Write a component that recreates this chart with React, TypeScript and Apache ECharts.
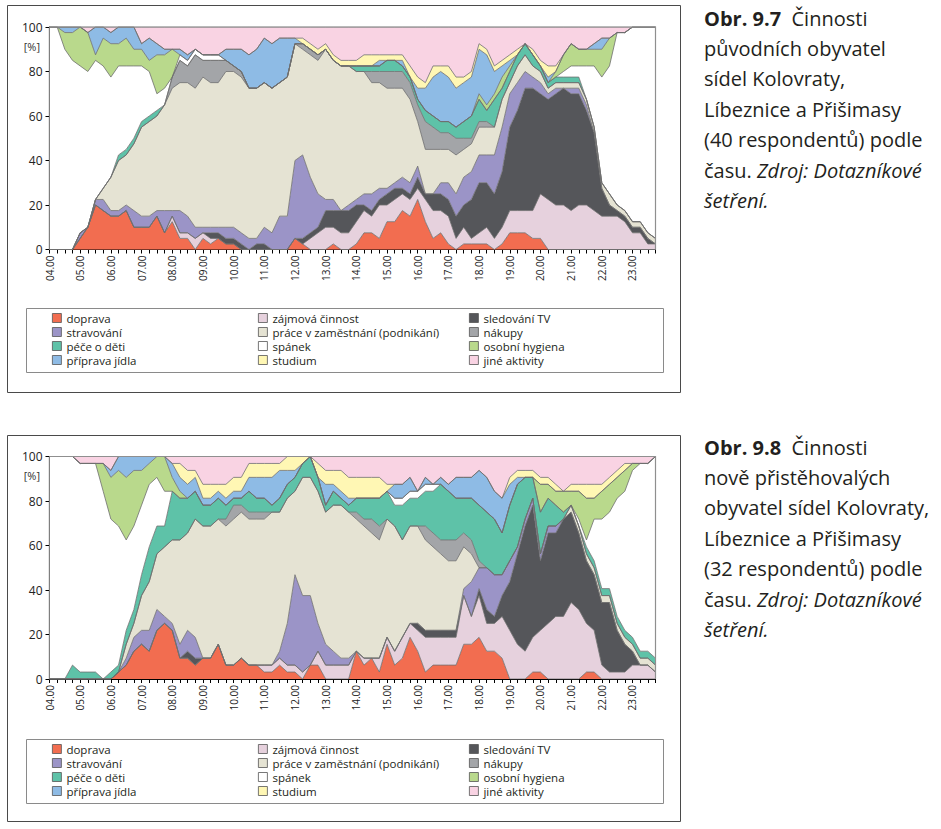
import React, { useEffect, useRef } from "react";
import * as echarts from "echarts";

// 15-minute time categories 04.00 ... 23.45
const categories: string[] = [];
for (let h = 4; h <= 23; h++) {
  for (const m of ["00", "15", "30", "45"]) categories.push(`${h < 10 ? "0" + h : h}.${m}`);
}

const yTicks = [0, 20, 40, 60, 80, 100];

// stacking order bottom -> top
const seriesNames = [
  "doprava",
  "zájmová činnost",
  "sledování TV",
  "stravování",
  "práce v zaměstnání (podnikání)",
  "nákupy",
  "péče o děti",
  "spánek",
  "osobní hygiena",
  "příprava jídla",
  "studium",
  "jiné aktivity",
];
const seriesColors = [
  "#F26D50", "#E6D1DD", "#55565A", "#9B94C7", "#E5E3D3", "#A3A5A8",
  "#5EC2A8", "#FFFFFF", "#B9D98C", "#8EBBE5", "#FFF7B4", "#F9D3E3",
];
const legendColumns = [
  ["doprava", "stravování", "péče o děti", "příprava jídla"],
  ["zájmová činnost", "práce v zaměstnání (podnikání)", "spánek", "studium"],
  ["sledování TV", "nákupy", "osobní hygiena", "jiné aktivity"],
];

// ---- Obr. 9.7: respondents (of 40) per 15-min slot ----
const N1 = 40;
const c1Doprava = [0,0,0,0,2,4,8,7,6,6, 7,4,4,4,6,3,5,2,2,0, 2,1,2,1,1,0,0,0,0,0, 0,0,2,1,0,0,0,1,0,0, 1,3,3,2,5,5,7,6,9,5, 2,3,1,0,1,1,1,1,0,1, 3,3,3,2,2,0,0,0,0,0, 0,0,0,0,0,0,0,0,0,0];
const c1Zajmova = [0,0,0,0,0,0,0,0,0,0, 0,0,0,0,0,0,1,1,1,2, 1,1,0,0,0,0,0,0,0,0, 0,0,0,0,2,3,4,3,3,3, 4,4,3,6,3,4,3,3,2,4, 5,4,5,2,3,1,2,3,2,3, 4,4,4,5,8,9,8,8,7,8, 8,7,6,6,6,5,3,3,1,1];
const c1TV = [0,0,0,0,0,0,0,0,0,0, 0,0,0,0,0,0,0,0,0,0, 0,1,1,1,1,1,0,1,1,0, 0,0,0,1,1,1,3,3,4,4, 3,1,1,1,2,2,1,1,2,1, 3,3,3,4,4,7,9,8,8,10, 15,18,22,22,18,18,20,21,21,20, 17,14,5,2,1,1,1,1,1,0];
const c1Stravovani = [0,0,0,0,1,0,1,2,1,1, 1,3,2,2,1,4,1,4,3,2, 1,1,1,2,2,2,2,1,3,3, 6,6,14,15,10,6,2,2,0,1, 1,2,3,2,1,1,2,2,2,0, 0,2,3,4,5,5,5,5,7,8, 6,5,3,2,2,1,1,0,1,1, 1,0,0,0,0,0,0,0,0,0];
const c1Prace = [0,0,0,0,0,0,0,2,6,9, 9,12,16,17,17,19,22,23,24,25, 27,26,26,28,28,28,27,27,26,26, 24,25,21,19,22,24,27,25,26,25, 23,22,20,19,18,17,16,15,8,8, 8,6,6,7,5,5,5,5,5,5, 2,3,3,2,2,1,1,1,1,1, 1,1,1,2,1,1,1,1,1,1];
const c1Nakupy = [0,0,0,0,0,0,0,0,0,0, 0,0,0,0,0,0,2,4,3,6, 3,4,4,2,1,1,0,0,0,0, 0,0,0,1,1,1,0,0,0,0, 0,0,2,2,3,3,3,3,3,5, 4,3,3,3,2,1,1,1,0,0, 0,0,0,0,0,0,0,0,0,0, 0,0,0,0,0,0,0,0,0,0];
const c1Pece = [0,0,0,0,0,0,0,0,0,1, 1,1,1,1,1,0,0,0,0,0, 0,0,0,0,0,0,0,0,0,0, 0,0,0,0,0,0,0,0,0,0, 1,1,1,1,2,2,1,1,1,2, 2,2,2,2,3,4,4,2,5,2, 2,2,2,2,1,1,1,1,1,1, 0,0,0,0,0,0,0,0,0,0];
const c1Spanek = [40,40,36,34,30,28,25,22,18,16, 15,13,10,8,3,3,0,1,1,1, 1,1,1,0,0,0,0,0,0,0, 0,0,0,0,0,0,0,0,0,0, 0,0,0,0,0,0,0,0,0,0, 0,0,0,0,0,0,0,0,0,0, 0,0,0,0,0,0,0,1,2,2, 6,11,19,23,31,32,35,35,37,38];
const c1Hygiena = [0,0,3,5,7,7,1,5,6,4, 5,3,3,2,7,6,5,0,0,0, 0,0,0,0,0,0,0,0,0,0, 0,0,0,0,0,0,0,0,0,0, 0,0,0,0,0,0,0,0,0,0, 0,0,0,0,0,0,1,1,1,2, 1,0,0,0,0,0,1,3,4,3, 3,3,5,5,0,0,0,0,0,0];
const c1Priprava = [0,0,1,1,0,0,5,2,2,3, 2,4,1,4,2,1,0,1,1,0, 0,0,0,2,3,4,6,7,8,8, 8,7,1,0,0,0,0,0,0,0, 0,0,0,1,0,0,1,0,2,4, 7,9,8,7,7,7,8,9,4,2, 1,0,0,0,0,1,0,0,0,0, 0,1,2,0,0,0,0,0,0,0];
const c1Studium = [0,0,0,0,0,0,0,0,0,0, 0,0,0,0,0,0,0,0,0,0, 0,0,0,0,0,0,0,0,0,0, 0,0,0,1,1,1,1,1,1,1, 1,2,2,1,1,1,1,2,2,1, 2,1,2,2,1,1,1,1,1,1, 1,1,0,1,1,2,1,0,0,0, 0,0,0,0,0,0,0,0,0,0];
const c1Jine = [0,0,0,0,0,1,0,0,1,0, 0,0,3,2,3,4,4,4,5,4, 5,5,5,4,4,4,5,4,2,3, 2,2,2,2,3,4,3,5,6,6, 6,5,5,5,5,5,5,7,9,10, 7,7,7,9,9,8,3,4,7,6, 5,4,3,4,6,7,7,5,3,4, 4,3,2,2,1,1,0,0,0,0];

// ---- Obr. 9.8: respondents (of 32) per 15-min slot ----
const N2 = 32;
const c2Doprava = [0,0,0,0,0,0,0,0,0,1, 2,4,5,4,7,8,7,3,3,2, 3,3,5,2,2,3,2,2,1,1, 2,1,1,0,2,2,0,0,0,0, 4,2,3,1,5,2,3,6,4,1, 2,2,2,2,5,5,6,4,4,3, 0,0,0,1,1,0,0,0,0,0, 1,1,0,0,0,0,0,0,0,0];
const c2Zajmova = [0,0,0,0,0,0,0,0,0,0, 0,0,0,0,0,0,0,0,0,0, 0,0,0,0,0,0,0,0,1,1, 1,1,1,1,0,2,2,2,2,2, 0,1,0,2,1,2,3,2,3,5, 4,4,4,4,7,4,6,4,4,6, 7,5,4,5,6,8,9,9,11,10, 7,6,2,1,1,1,2,2,2,1];
const c2TV = [0,0,0,0,0,0,0,0,0,0, 0,0,0,0,0,0,0,0,1,1, 0,0,0,0,0,0,0,0,0,0, 0,0,0,0,0,0,0,0,0,0, 0,0,0,0,0,0,0,0,1,1, 1,1,1,1,0,0,1,2,1,3, 7,13,18,19,10,13,12,14,13,11, 9,8,9,10,6,4,2,0,0,0];
const c2Stravovani = [0,0,0,0,0,0,0,0,0,0, 1,2,2,3,3,1,1,2,3,3, 0,0,0,0,0,0,0,0,0,0, 1,6,13,11,10,4,3,2,1,1, 0,0,0,0,0,0,0,0,0,0, 0,0,0,0,1,5,3,6,6,3, 3,1,1,1,1,1,1,0,0,0, 0,0,0,0,0,0,0,0,0,0];
const c2Prace = [0,0,0,0,0,0,0,0,0,0, 2,2,5,7,8,10,12,15,14,17, 19,19,18,20,21,21,21,21,21,22, 20,18,12,17,17,19,19,21,22,21, 19,19,18,17,17,18,14,14,14,13, 12,11,10,10,6,4,0,0,0,0, 0,0,0,0,0,0,0,0,1,1, 1,1,1,1,1,1,1,1,1,1];
const c2Nakupy = [0,0,0,0,0,0,0,0,0,0, 0,0,0,0,0,0,0,0,0,0, 0,0,0,1,2,1,1,1,1,0, 0,0,0,0,0,0,0,0,0,0, 1,1,2,2,0,0,0,0,0,2, 2,2,3,3,2,2,1,0,0,0, 0,0,0,0,0,0,0,0,0,0, 0,0,0,0,0,0,0,0,0,0];
const c2Pece = [0,0,0,2,1,1,1,0,1,1, 2,2,3,5,4,3,7,6,5,4, 3,3,3,2,1,1,3,2,2,1, 2,2,2,2,3,2,1,2,1,1, 2,3,3,4,4,3,5,4,4,5, 6,8,7,6,5,6,8,8,8,6, 8,9,6,3,6,4,3,1,0,0, 1,1,1,1,1,1,1,1,1,1];
const c2Spanek = [32,32,32,30,30,30,30,27,22,20, 13,12,10,9,7,5,0,0,0,0, 0,0,0,0,0,0,0,0,0,0, 0,0,0,0,0,0,0,0,0,0, 0,0,0,0,0,1,1,1,1,1, 1,0,0,0,0,0,0,0,0,0, 0,0,0,0,0,0,0,0,0,1, 1,6,10,11,17,20,24,27,27,29];
const c2Hygiena = [0,0,0,0,0,0,0,4,6,8, 9,8,5,3,3,5,2,1,0,0, 0,0,0,0,0,0,0,0,0,0, 0,0,0,0,0,0,0,0,0,0, 0,0,0,0,0,0,0,0,0,0, 0,0,0,0,0,0,0,0,0,0, 0,0,0,0,4,2,2,3,2,4, 6,3,4,4,3,3,1,0,0,0];
const c2Priprava = [0,0,0,0,0,0,0,0,1,2, 3,2,2,1,0,0,2,2,2,2, 1,1,1,1,1,1,2,3,3,4, 4,2,1,0,0,0,3,1,1,1, 0,0,0,0,0,2,2,2,0,1, 0,1,1,3,3,3,5,5,4,5, 3,1,0,0,0,0,0,0,0,0, 0,0,0,0,0,0,0,0,0,0];
const c2Studium = [0,0,0,0,0,0,0,0,0,0, 0,0,0,0,0,0,0,2,2,1, 2,2,1,2,2,2,2,2,2,2, 1,2,2,1,0,2,2,2,3,3, 3,3,3,3,1,0,0,0,0,0, 0,0,0,0,0,0,0,0,0,0, 1,1,1,1,1,1,1,0,1,1, 2,2,1,1,1,1,0,0,0,0];
const c2Jine = [0,0,0,0,1,1,1,1,2,0, 0,0,0,0,0,0,1,1,2,2, 4,4,4,4,3,3,1,1,1,1, 1,0,0,0,0,1,2,2,2,3, 3,3,3,3,4,4,4,3,5,3, 4,3,4,3,3,3,2,3,5,6, 3,2,2,2,3,3,4,5,4,4, 4,4,4,3,2,1,1,1,1,0];

const chart1Counts = [c1Doprava, c1Zajmova, c1TV, c1Stravovani, c1Prace, c1Nakupy, c1Pece, c1Spanek, c1Hygiena, c1Priprava, c1Studium, c1Jine];
const chart2Counts = [c2Doprava, c2Zajmova, c2TV, c2Stravovani, c2Prace, c2Nakupy, c2Pece, c2Spanek, c2Hygiena, c2Priprava, c2Studium, c2Jine];

const caption1 = [
  "{b|Obr. 9.7}  Činnosti",
  "původních obyvatel",
  "sídel Kolovraty,",
  "Líbeznice a Přišimasy",
  "(40 respondentů) podle",
  "času. {i|Zdroj: Dotazníkové}",
  "{i|šetření.}",
];
const caption2 = [
  "{b|Obr. 9.8}  Činnosti",
  "nově přistěhovalých",
  "obyvatel sídel Kolovraty,",
  "Líbeznice a Přišimasy",
  "(32 respondentů) podle",
  "času. {i|Zdroj: Dotazníkové}",
  "{i|šetření.}",
];

const FONT = "'Open Sans', 'Noto Sans', 'DejaVu Sans', sans-serif";
const TEXT = "#231f20";

export default function App() {
  const ref = useRef<HTMLDivElement>(null);
  useEffect(() => {
    document.body.style.margin = "0";
    if (!ref.current) return;
    const chart = echarts.init(ref.current, undefined, { renderer: "svg" });

    const panels = [
      { top: 27, counts: chart1Counts, total: N1, frameY: 5.5, frameH: 387, legendY: 308.5, legendTop: 311, caption: caption1, capY: 18 },
      { top: 456.5, counts: chart2Counts, total: N2, frameY: 435.5, frameH: 386, legendY: 739.5, legendTop: 742, caption: caption2, capY: 447 },
    ];
    const gridLeft = 49.5, gridW = 606, gridH = 222.5;

    const grid: any[] = [];
    const xAxis: any[] = [];
    const yAxis: any[] = [];
    const series: any[] = [];
    const legend: any[] = [];
    const graphic: any[] = [];

    panels.forEach((p, k) => {
      grid.push({ left: gridLeft, top: p.top, width: gridW, height: gridH, containLabel: false });
      xAxis.push({
        type: "category", gridIndex: k, data: categories, boundaryGap: false,
        axisLine: { lineStyle: { color: "#000", width: 1 } },
        axisTick: { interval: 0, length: 4, lineStyle: { color: "#000", width: 1 } },
        axisLabel: { interval: 3, rotate: 90, fontSize: 10, color: "#222", fontFamily: FONT, margin: 6 },
        splitLine: { show: false },
      });
      yAxis.push({
        type: "value", gridIndex: k, min: yTicks[0], max: yTicks[yTicks.length - 1], interval: 20,
        axisLine: { show: true, lineStyle: { color: "#000", width: 1.2 } },
        axisTick: { show: true, length: 4, lineStyle: { color: "#000" } },
        axisLabel: { fontSize: 12, color: "#222", fontFamily: FONT, margin: 7 },
        splitLine: { show: false },
      });
      p.counts.forEach((arr, s) => {
        series.push({
          type: "line", name: seriesNames[s], xAxisIndex: k, yAxisIndex: k, stack: "panel" + k,
          data: arr.map((c) => (c * 100) / p.total),
          symbol: "none", showSymbol: false, smooth: false, silent: true,
          lineStyle: { color: "#6e6e6e", width: 0.8 },
          areaStyle: { color: seriesColors[s], opacity: 1 },
          itemStyle: { color: seriesColors[s] },
          emphasis: { disabled: true },
        });
      });
      const colLeft = [52, 258, 469];
      legendColumns.forEach((col, c) => {
        legend.push({
          orient: "vertical", left: colLeft[c], top: p.legendTop, data: col, padding: 0,
          icon: "rect", itemWidth: 9, itemHeight: 9, itemGap: 0, selectedMode: false,
          textStyle: { fontSize: 11.5, lineHeight: 14, height: 14, color: "#231f20", fontFamily: FONT },
          itemStyle: { borderColor: "#555", borderWidth: 0.8 },
        });
      });
      // frames
      graphic.push({ type: "rect", z: 50, shape: { x: 7.5, y: p.frameY, width: 673, height: p.frameH }, style: { fill: "none", stroke: "#4a4a4a", lineWidth: 1 } });
      graphic.push({ type: "rect", z: 50, shape: { x: 26.5, y: p.legendY, width: 637, height: 64 }, style: { fill: "none", stroke: "#8a8a8a", lineWidth: 1 } });
      // plot top/right border
      graphic.push({ type: "polyline", z: 60, shape: { points: [[gridLeft, p.top], [gridLeft + gridW, p.top], [gridLeft + gridW, p.top + gridH]] }, style: { fill: "none", stroke: "#8f8f8f", lineWidth: 1.2 } });
      graphic.push({ type: "text", z: 60, x: 40, y: p.top + 19, style: { text: "[%]", fontSize: 11, fill: "#333", fontFamily: FONT, align: "right", verticalAlign: "middle" } });
      p.caption.forEach((line, j) => {
        graphic.push({
          type: "text", z: 60, x: 704, y: p.capY + j * 30.4,
          style: {
            text: line, fontSize: 20, fill: TEXT, fontFamily: FONT, verticalAlign: "middle", align: "left",
            rich: {
              b: { fontSize: 20, fontWeight: "bold", fill: TEXT, fontFamily: FONT },
              i: { fontSize: 20, fontStyle: "italic", fill: TEXT, fontFamily: FONT },
            },
          },
        });
      });
    });

    chart.setOption({
      animation: false,
      backgroundColor: "#fff",
      textStyle: { fontFamily: FONT },
      grid, xAxis, yAxis, series, legend, graphic,
    });
    return () => chart.dispose();
  }, []);
  return <div ref={ref} style={{ position: "fixed", left: 0, top: 0, width: 941, height: 829 }} />;
}
